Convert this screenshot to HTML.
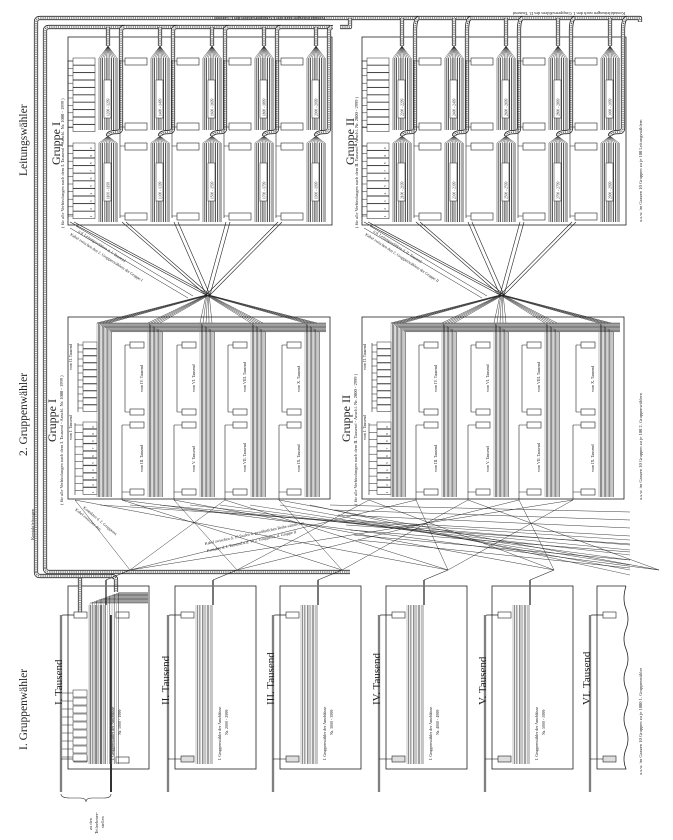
<!DOCTYPE html>
<html><head><meta charset="utf-8"><style>
html,body{margin:0;padding:0;background:#fff;width:673px;height:840px;overflow:hidden}
svg{display:block}
text{font-family:"Liberation Serif",serif;fill:#222}
</style></head><body>
<svg id="s" width="673" height="840" viewBox="0 0 673 840" xmlns="http://www.w3.org/2000/svg">
<g id="g"></g>
<text transform="translate(27,176) rotate(-90)" font-size="11.5">Leitungswähler</text>
<text transform="translate(27,456) rotate(-90)" font-size="11.5">2.  Gruppenwähler</text>
<text transform="translate(27,750) rotate(-90)" font-size="11.5">I.  Gruppenwähler</text>
<text transform="translate(60,165) rotate(-90)" font-size="12">Gruppe  I</text>
<text transform="translate(64,228) rotate(-90)" font-size="4.5">( für alle Verbindungen nach dem I. Tausend - Anschl. Nr. 1000 - 1999 )</text>
<text transform="translate(354,165) rotate(-90)" font-size="12">Gruppe  II</text>
<text transform="translate(358,228) rotate(-90)" font-size="4.5">( für alle Verbindungen nach dem II. Tausend - Anschl. Nr. 2000 - 2999 )</text>
<text transform="translate(56,442) rotate(-90)" font-size="12">Gruppe  I</text>
<text transform="translate(63,505) rotate(-90)" font-size="4.5">( für alle Verbindungen nach dem I. Tausend - Anschl. Nr. 1000 - 1999 )</text>
<text transform="translate(350,442) rotate(-90)" font-size="12">Gruppe  II</text>
<text transform="translate(357,505) rotate(-90)" font-size="4.5">( für alle Verbindungen nach dem II. Tausend - Anschl. Nr. 2000 - 2999 )</text>
<text transform="translate(72,440) rotate(-90)" font-size="4">vom I. Tausend</text>
<text transform="translate(72,370) rotate(-90)" font-size="4">vom II. Tausend</text>
<text transform="translate(366,440) rotate(-90)" font-size="4">vom I. Tausend</text>
<text transform="translate(366,370) rotate(-90)" font-size="4">vom II. Tausend</text>
<text transform="translate(62,705) rotate(-90)" font-size="11">I.  Tausend</text>
<text transform="translate(169,705) rotate(-90)" font-size="11">II.  Tausend</text>
<text transform="translate(274,705) rotate(-90)" font-size="11">III.  Tausend</text>
<text transform="translate(380,705) rotate(-90)" font-size="11">IV.  Tausend</text>
<text transform="translate(486,705) rotate(-90)" font-size="11">V.  Tausend</text>
<text transform="translate(590,705) rotate(-90)" font-size="11">VI.  Tausend</text>
<text transform="translate(642,222) rotate(-90)" font-size="4.5">u.s.w.  im  Ganzen  10  Gruppen  zu  je  100  Leitungswählern</text>
<text transform="translate(642,500) rotate(-90)" font-size="4.5">u.s.w.  im  Ganzen  10  Gruppen  zu  je  100  2.  Gruppenwählern</text>
<text transform="translate(642,775) rotate(-90)" font-size="4.5">u.s.w.  im  Ganzen  10  Gruppen  zu  je  1000  1.  Gruppenwähler</text>
<text transform="translate(325,17) rotate(180)" font-size="4.5">Kontaktleitungen nach den I. Gruppenwählern des I. Tausend</text>
<text transform="translate(625,12) rotate(180)" font-size="4.5">Kontaktleitungen nach den I. Gruppenwählern des II. Tausend</text>
<text transform="translate(34,540) rotate(-90)" font-size="4.5">Kontaktleitungen</text>
<text transform="translate(92,830) rotate(-90)" font-size="4.5">zu den</text>
<text transform="translate(98,834) rotate(-90)" font-size="4.5">Teilnehmer-</text>
<text transform="translate(104,828) rotate(-90)" font-size="4.5">stellen</text>
<text transform="translate(70,235) rotate(33)" font-size="4">Kabel zwischen den 2. Gruppenwählern der Gruppe I</text>
<text transform="translate(78,232) rotate(33)" font-size="4">u.d. Leitungswählern d. I. Tausend</text>
<text transform="translate(365,235) rotate(33)" font-size="4">Kabel zwischen den 2. Gruppenwählern der Gruppe II</text>
<text transform="translate(373,232) rotate(33)" font-size="4">u.d. Leitungswählern d. II. Tausend</text>
<text transform="translate(205,545) rotate(-12)" font-size="4">Kabel zwischen d. 10 Stufen d. gewöhnlichen Reihe sämtlicher</text>
<text transform="translate(207,552) rotate(-12)" font-size="4">Kontakte d. I. Tausend u.d. 10 2. Gruppenw. d. Gruppe II</text>
<text transform="translate(75,510) rotate(40)" font-size="4">Kabel zwischen den</text>
<text transform="translate(83,508) rotate(40)" font-size="4">Kontakten d. 2. Gruppenw.</text>
<g id="bl"></g>
</svg>
<script>
var G=document.getElementById('g'),NS='http://www.w3.org/2000/svg';
function el(t,a){var e=document.createElementNS(NS,t);for(var k in a)e.setAttribute(k,a[k]);G.appendChild(e);return e;}
function L(x1,y1,x2,y2,w,c){el('line',{x1:x1,y1:y1,x2:x2,y2:y2,stroke:c||'#222','stroke-width':w||0.5});}
function R(x,y,w,h,sw,f){el('rect',{x:x,y:y,width:w,height:h,fill:f||'#fff',stroke:'#222','stroke-width':sw||0.6});}
function cable(d){el('path',{d:d,fill:'none',stroke:'#222','stroke-width':4.2,'stroke-linejoin':'round'});
 el('path',{d:d,fill:'none',stroke:'#fff','stroke-width':2.6,'stroke-linejoin':'round'});
 el('path',{d:d,fill:'none',stroke:'#555','stroke-width':1.2,'stroke-dasharray':'1.2 1','stroke-linejoin':'round'});}
function T(x,y,s,fs){var e=el('text',{transform:'translate('+x+','+y+') rotate(-90)','font-size':fs||4});e.textContent=s;}

cable('M36,572 L36,22 Q36,18 40,18 L640,18 L640,22');
cable('M45,568 L45,31 Q45,27 49,27 L330,27');
cable('M340,27 L350,27 L350,18');

[[68,0],[362,1]].forEach(function(p){
 var ox=p[0],g=p[1];
 R(ox,37,264,188,0.8,'none');
 for(var i=0;i<5;i++){
  var cx=ox+5+i*52;
  if(i==0){for(var k=0;k<10;k++){R(cx,143+k*7.6,22,7.2,0.5);T(cx+19,143+k*7.6+6,String(10-k).slice(-1),3.5);}
           for(var k=0;k<10;k++){R(cx,58+k*7.4,22,7,0.5);} }
  else{R(cx,143,22,7);R(cx,213,22,7);R(cx,58,22,7);R(cx,123,22,7);}
  L(cx-5,60,cx-5,218,0.6);
  [61,127,146,216].forEach(function(y){L(cx-5,y,cx,y,0.5);});
  if(i==0){for(var k=0;k<20;k++){var y=k<10?61+k*7.4:146+(k-10)*7.6;L(cx-5,y,cx,y,0.5);}}
  for(var k=0;k<11;k++){var x=cx+26+k*1.8;L(x,143,x,222,0.8,k%3?'#333':'#777');L(x,58,x,130,0.8,k%3?'#333':'#777');
     L(x,58,cx+35,46,0.4);L(x,143,cx+35,136,0.4);}
  R(cx+31,163,7,38,0.5);R(cx+31,80,7,38,0.5);
  var lo=(g+1)*1000+100+i*200;
  T(cx+36.5,199,lo+' - '+(lo+99),3.6);
  T(cx+36.5,116,(lo+100)+' - '+(lo+199),3.6);
  cable('M'+(cx+35)+',46 L'+(cx+35)+','+(g?18:27));
  cable('M'+(cx+35)+',136 Q'+(cx+35)+',132 '+(cx+44)+',132 Q'+(cx+48)+',132 '+(cx+48)+',128 L'+(cx+48)+',31 Q'+(cx+48)+','+(g?18:27)+' '+(cx+52)+','+(g?18:27));
  var vx=ox+140,vy=295;
  L(cx-3,222,vx-2,vy,0.6);L(cx+1,222,vx+2,vy,0.6);
 }
 var tg=[29,80,132,183,237];
 tg.forEach(function(o){for(var k=0;k<5;k++){L(ox+138+k*0.8,295,ox+o+k*3,323,0.45);}});
 L(ox+2,228,ox+120,298,0.5);L(ox+8,226,ox+125,296,0.5);
});

[[68,0],[362,1]].forEach(function(p){
 var ox=p[0],g=p[1];
 R(ox,317,262,182,0.8,'none');
 var c0=ox+15;
 for(var k=0;k<10;k++){R(c0,342+k*7,14,6.4,0.5);R(c0,422+k*7.3,14,6.6,0.5);T(c0+11,422+k*7.3+5.5,String(10-k).slice(-1),3.5);
   L(c0-5,345+k*7,c0,345+k*7,0.5);L(c0-8,425+k*7.3,c0,425+k*7.3,0.5);}
 L(c0-5,343,c0-5,412,0.6);L(c0-8,423,c0-8,495,0.6);
 for(var k=0;k<12;k++){var x=ox+29+k*1.3;L(x,323+k*0.8,x,497,0.55,k%3?'#333':'#888');L(x,323+k*0.8,ox+258,323+k*0.8,0.4);}
 var cols=[62,114,165,219],names=[['IV.','III.'],['VI.','V.'],['VIII.','VII.'],['X.','IX.']];
 cols.forEach(function(o,j){var cx=ox+o;
  R(cx,342,14,6);R(cx,409,14,6);R(cx,422,14,6);R(cx,489,14,6);
  L(cx-5,345,cx-5,412,0.6);L(cx-8,425,cx-8,500,0.6);
  [345,412].forEach(function(y){L(cx-5,y,cx,y,0.5);});[425,492].forEach(function(y){L(cx-8,y,cx,y,0.5);});
  T(cx+13,392,'vom '+names[j][0]+' Tausend',4);T(cx+13,472,'vom '+names[j][1]+' Tausend',4);
  for(var k=0;k<12;k++){var x=cx+18+k*1.3;L(x,323+k*0.8,x,497,0.55,k%3?'#333':'#888');}
 });
});

var mids=[];[68,362].forEach(function(ox){[7,54,106,157,211].forEach(function(o){mids.push(ox+o);});});
var bots=[68,175,280,386,492,597];
mids.forEach(function(mx,i){bots.forEach(function(b,j){ if((i+j)%3==0) L(mx,500,b+62,570,0.45);});});
for(var k=0;k<8;k++){L(330+k*4,505+k*5,630,512+k*8,0.45);L(100+k*30,505,630,540+k*5,0.4);}
cable('M36,572 Q36,576 40,576 L110,576 Q116,576 116,580 L116,592');
cable('M45,568 Q45,572 49,572 L350,572');

bots.forEach(function(bx,i){
 var w=i==5?29:81;
 if(i<5)R(bx,586,w,183,0.8,'none');
 else{el('path',{d:'M626,586 L'+bx+',586 L'+bx+',769 L626,769 q-4,-10 0,-20 q4,-10 0,-20 q-4,-10 0,-20 q4,-10 0,-20 q-4,-10 0,-20 q4,-10 0,-20 q-4,-10 0,-20 q4,-10 0,-20 q-4,-10 0,-23',fill:'none',stroke:'#222','stroke-width':0.8});}
 if(i<5){for(var k=0;k<11;k++){var x=bx+21+k*1.6;L(x,605,x,764,0.6,k%3?'#444':'#999');}
   L(bx+38,605,bx+38,580,2,'#777');L(bx+38,580,bx+62,570,0.6);
   var bl=document.getElementById('bl');
   var t=document.createElementNS(NS,'text');t.setAttribute('transform','translate('+(bx+46)+',760) rotate(-90)');t.setAttribute('font-size','4');t.textContent='I. Gruppenwähler der Anschlüsse';bl.appendChild(t);
   t=document.createElementNS(NS,'text');t.setAttribute('transform','translate('+(bx+53)+',735) rotate(-90)');t.setAttribute('font-size','4');t.textContent='Nr. '+(i+1)+'000 - '+(i+1)+'999';bl.appendChild(t);}
 R(bx+6,612,13,6);R(bx+6,756,13,6,0.6,'#ddd');
 el('path',{d:'M'+(bx+6)+',615 L'+(bx-5)+',615 Q'+(bx-7)+',615 '+(bx-7)+',618 L'+(bx-7)+',792',fill:'none',stroke:'#222','stroke-width':0.7});
 L(bx-7,615,bx-7,792,2.2,'#333');L(bx-7,615,bx-7,792,1,'#ccc');
 L(bx-7,759,bx+6,759,0.6);
});
for(var k=0;k<9;k++){R(73,690+k*8,14,7,0.5);L(62,693+k*8,73,693+k*8,0.5);}
R(116,612,13,6);R(116,757,13,6);L(111,615,111,792,2,'#333');
for(var k=0;k<14;k++){var x=90+k*2.2;L(x,603-k*0.8,x,764,0.5,k%2?'#333':'#999');L(x,603-k*0.8,148,603-k*0.8,0.4);}
cable('M80,612 L80,578');
el('path',{d:'M61,794 Q61,798 70,798 L80,798 Q86,798 86,802 Q86,798 92,798 L104,798 Q111,798 111,794',fill:'none',stroke:'#222','stroke-width':0.6});
</script>
</body></html>
